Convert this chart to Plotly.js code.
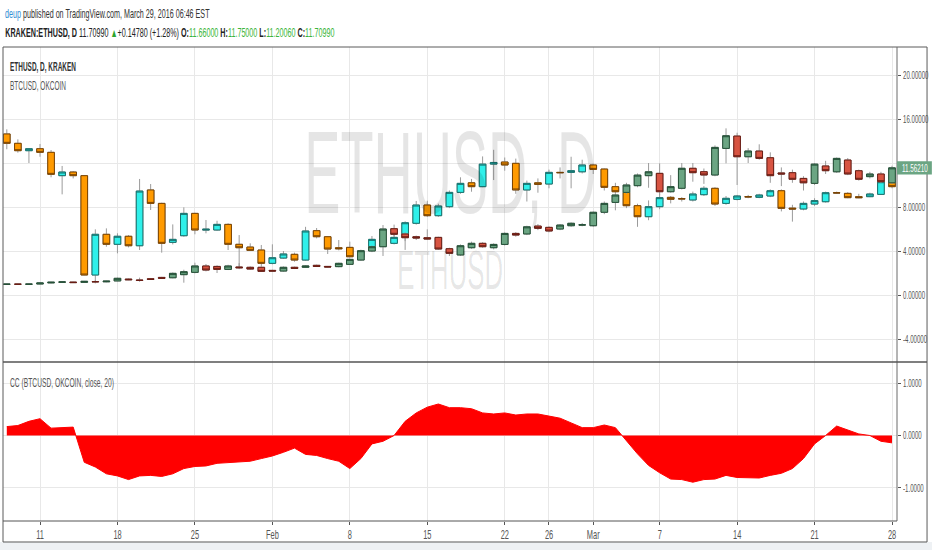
<!DOCTYPE html>
<html>
<head>
<meta charset="utf-8">
<script src="https://cdn.plot.ly/plotly-3.0.1.min.js"></script>
<style>
  html, body { margin: 0; padding: 0; background: #ffffff; }
  #chart { width: 932px; height: 550px; }
</style>
</head>
<body>
<div id="chart"></div>
<script>
// daily bars, first bar on Jan 8 2016
const firstDay = '2016-01-08';

// ETHUSD, KRAKEN (main series, green / red)
const ethOpen = [
  0.97, 0.99, 0.98, 1.00, 1.10, 1.16, 1.18, 1.15, 1.22, 1.20,
  1.28, 1.45, 1.36, 1.48, 1.60, 1.57, 1.85, 2.06, 2.64, 2.60,
  2.33, 2.55, 2.52, 2.52, 2.24, 2.18, 2.52, 2.52, 2.70, 2.60,
  2.58, 2.79, 3.18, 4.00, 4.39, 6.03, 5.55, 5.30, 5.21, 5.24,
  4.21, 3.64, 4.30, 4.70, 4.30, 4.60, 5.60, 5.55, 6.27, 6.15,
  6.00, 6.30, 6.36, 6.30, 7.52, 8.42, 9.33, 9.94, 10.85, 11.06,
  9.39, 9.70, 11.52, 11.21, 10.91, 13.33, 14.45, 12.57, 13.09, 12.48,
  11.10, 11.12, 10.60, 10.15, 11.73, 11.20, 12.27, 11.30, 10.76, 11.00,
  10.20];
const ethHigh = [
  1.02, 1.01, 1.02, 1.12, 1.20, 1.22, 1.20, 1.28, 1.36, 1.30,
  1.58, 1.50, 1.58, 1.55, 1.65, 2.05, 2.30, 2.94, 2.82, 2.70,
  2.75, 2.90, 2.60, 2.60, 2.30, 2.60, 2.58, 2.70, 2.76, 2.64,
  2.94, 3.30, 4.12, 4.50, 6.36, 6.40, 5.70, 5.40, 5.97, 5.30,
  4.30, 4.60, 4.85, 4.80, 4.70, 5.70, 5.72, 6.30, 6.45, 6.25,
  6.45, 6.60, 6.55, 7.60, 8.50, 9.20, 10.20, 11.05, 12.00, 11.97,
  10.90, 12.00, 12.00, 11.50, 13.60, 15.15, 14.75, 13.35, 13.70, 12.97,
  11.60, 11.40, 10.80, 12.00, 12.20, 12.50, 12.45, 11.40, 11.20, 11.20,
  11.75];
const ethLow = [
  0.94, 0.95, 0.95, 0.98, 1.07, 1.13, 1.10, 1.12, 1.06, 1.16,
  1.25, 1.35, 1.21, 1.38, 1.48, 1.52, 1.12, 1.97, 2.15, 2.00,
  2.27, 2.35, 2.30, 2.10, 2.12, 2.12, 2.36, 2.48, 2.55, 2.50,
  2.52, 2.73, 3.12, 3.90, 3.55, 5.30, 4.10, 5.00, 5.00, 4.10,
  3.55, 3.55, 4.20, 4.30, 4.15, 4.50, 5.30, 5.45, 5.90, 5.70,
  5.90, 6.20, 6.25, 6.20, 7.35, 7.70, 9.20, 9.80, 9.75, 9.10,
  9.30, 9.60, 10.30, 10.10, 10.80, 11.97, 10.00, 12.00, 12.30, 10.20,
  9.90, 10.20, 9.50, 10.00, 11.00, 11.10, 10.90, 10.40, 10.60, 10.20,
  10.10];
const ethClose = [
  0.99, 0.98, 0.99, 1.09, 1.16, 1.19, 1.13, 1.24, 1.20, 1.26,
  1.52, 1.39, 1.33, 1.42, 1.52, 1.97, 2.12, 2.64, 2.27, 2.33,
  2.64, 2.48, 2.36, 2.15, 2.18, 2.52, 2.42, 2.64, 2.60, 2.55,
  2.88, 3.24, 4.03, 4.39, 6.00, 5.52, 5.21, 5.18, 5.09, 4.18,
  3.79, 4.48, 4.70, 4.39, 4.60, 5.60, 5.45, 6.20, 6.06, 5.82,
  6.36, 6.52, 6.38, 7.52, 8.33, 9.09, 10.00, 10.90, 11.20, 9.39,
  9.85, 11.52, 11.12, 10.91, 13.42, 14.48, 12.57, 13.09, 12.42, 10.85,
  11.00, 10.52, 10.20, 11.90, 11.30, 12.42, 11.00, 10.52, 11.00, 10.30,
  11.5621];

// BTCUSD, OKCOIN overlay (cyan / orange), read on the chart's price scale
const btcOpen = [
  14.64, 13.79, 13.12, 13.30, 12.97, 10.85, 11.18, 10.85, 1.82, 5.52,
  4.61, 5.34, 4.48, 9.55, 8.33, 4.79, 5.39, 7.42, 5.90, 5.91,
  6.42, 4.61, 4.36, 4.09, 2.88, 3.36, 3.70, 3.18, 5.85, 5.30,
  4.30, 4.33, 3.48, 4.09, 5.06, 4.70, 5.24, 6.52, 8.18, 7.21,
  8.03, 9.33, 10.20, 9.85, 11.90, 12.09, 11.97, 9.55, 10.20, 10.09,
  11.15, 11.15, 11.20, 11.82, 11.45, 9.85, 9.33, 8.12, 7.12, 8.03,
  8.88, 8.76, 8.64, 9.12, 9.70, 8.33, 8.70, 8.94, 8.88, 9.00,
  9.48, 7.90, 7.82, 8.27, 8.48, 9.30, 9.24, 8.94, 8.94, 9.15,
  10.30];
const btcHigh = [
  15.06, 14.15, 13.35, 13.73, 13.18, 11.73, 11.27, 10.90, 5.97, 6.06,
  5.61, 5.45, 10.55, 10.09, 8.39, 6.42, 7.97, 7.48, 6.82, 6.75,
  6.52, 5.45, 4.70, 4.55, 4.61, 4.00, 3.85, 6.20, 6.09, 5.36,
  5.00, 4.85, 4.00, 5.36, 5.20, 5.50, 6.70, 8.55, 8.57, 8.30,
  9.50, 10.70, 10.55, 12.60, 13.20, 12.50, 12.40, 10.40, 10.60, 11.40,
  11.60, 12.57, 12.30, 11.95, 11.50, 10.20, 9.40, 8.30, 8.60, 9.20,
  9.00, 8.90, 9.40, 9.90, 9.80, 9.00, 9.10, 9.10, 9.20, 9.60,
  9.60, 8.20, 8.50, 8.80, 9.40, 9.40, 9.35, 9.20, 9.30, 10.40,
  10.40];
const btcLow = [
  13.25, 12.94, 12.00, 12.57, 10.70, 9.15, 10.60, 1.80, 1.12, 4.39,
  3.79, 4.33, 4.09, 7.73, 3.85, 4.60, 5.30, 5.52, 5.61, 5.85,
  4.09, 2.52, 4.00, 2.61, 2.79, 3.30, 3.03, 3.12, 5.15, 3.73,
  4.06, 3.42, 3.40, 3.94, 4.60, 4.60, 4.90, 6.40, 7.10, 7.10,
  7.90, 9.20, 9.39, 9.80, 10.45, 11.30, 9.20, 8.50, 9.30, 9.70,
  10.60, 9.70, 11.05, 11.00, 9.50, 9.20, 7.90, 6.20, 6.80, 7.80,
  8.33, 8.50, 8.50, 9.00, 8.10, 8.20, 8.60, 8.80, 8.80, 8.90,
  7.60, 6.67, 7.70, 8.10, 8.40, 9.20, 8.80, 8.80, 8.90, 9.10,
  9.70];
const btcClose = [
  13.79, 13.12, 13.30, 12.97, 10.97, 11.18, 10.85, 1.82, 5.52, 4.61,
  5.34, 4.48, 9.45, 8.33, 4.70, 5.06, 7.42, 5.91, 5.98, 6.42,
  4.61, 4.30, 4.06, 2.88, 3.39, 3.73, 3.18, 5.82, 5.30, 4.18,
  4.21, 3.48, 3.90, 5.06, 4.75, 5.24, 6.57, 8.18, 7.21, 8.09,
  9.33, 10.15, 9.85, 11.90, 12.05, 11.82, 9.55, 10.15, 10.06, 11.15,
  11.12, 11.30, 11.82, 11.42, 9.79, 9.39, 8.12, 7.12, 8.03, 8.85,
  8.70, 8.74, 9.18, 9.70, 8.27, 8.79, 9.00, 8.92, 9.09, 9.48,
  7.88, 7.82, 8.33, 8.58, 9.30, 9.28, 8.85, 8.85, 9.18, 10.30,
  9.85];

// CC (BTCUSD, OKCOIN, close, 20)
const ccValues = [
  0.17, 0.19, 0.27, 0.32, 0.14, 0.15, 0.16, -0.51, -0.60, -0.73,
  -0.77, -0.84, -0.77, -0.76, -0.78, -0.73, -0.63, -0.59, -0.58, -0.53,
  -0.52, -0.51, -0.49, -0.44, -0.39, -0.32, -0.24, -0.36, -0.38, -0.44,
  -0.49, -0.63, -0.44, -0.16, -0.11, 0.00, 0.27, 0.43, 0.54, 0.60,
  0.53, 0.53, 0.51, 0.43, 0.41, 0.43, 0.39, 0.41, 0.41, 0.37,
  0.33, 0.24, 0.15, 0.15, 0.20, 0.15, -0.11, -0.35, -0.57, -0.71,
  -0.83, -0.84, -0.89, -0.84, -0.83, -0.76, -0.80, -0.81, -0.81, -0.76,
  -0.72, -0.63, -0.44, -0.16, 0.00, 0.18, 0.10, 0.03, 0.00, -0.11,
  -0.14];

const tickDates  = ['2016-01-11','2016-01-18','2016-01-25','2016-02-01','2016-02-08','2016-02-15',
                    '2016-02-22','2016-02-26','2016-03-01','2016-03-07','2016-03-14','2016-03-21','2016-03-28'];
const tickLabels = ['11','18','25','Feb','8','15','22','26','Mar','7','14','21','28'];

const priceTicks  = [-4, 0, 4, 8, 12, 16, 20];
const priceLabels = ['-4.00000','0.00000','4.00000','8.00000','','16.00000','20.00000'];
const ccTicks  = [-1, 0, 1];
const ccLabels = ['-1.0000','0.0000','1.0000'];

const lastPrice = 11.5621;
const lastLabel = '11.56210';


function days_create(start, n)
{
    let t0 = Date.parse(start + 'T00:00:00Z');
    let out = [];
    for (let i = 0; i < n; i++)
        out.push(new Date(t0 + i * 86400000).toISOString().slice(0, 10));
    return out;
}

const days = days_create(firstDay, ethOpen.length);

// two candlestick traces per series: grey wicks first, then the bodies with dark borders
function candles_create(o, h, l, c, up, down)
{
    let wicks = {
        type: 'candlestick', x: days, open: o, high: h, low: l, close: c,
        increasing: {line: {color: '#9b9b9b', width: 1}, fillcolor: up.fill},
        decreasing: {line: {color: '#9b9b9b', width: 1}, fillcolor: down.fill},
        whiskerwidth: 0, hoverinfo: 'skip', showlegend: false,
    };
    let top = o.map((v, i) => Math.max(v, c[i]));
    let bot = o.map((v, i) => Math.min(v, c[i]));
    let bodies = {
        type: 'candlestick', x: days, open: o, high: top, low: bot, close: c,
        increasing: {line: {color: up.line, width: 1}, fillcolor: up.fill},
        decreasing: {line: {color: down.line, width: 1}, fillcolor: down.fill},
        whiskerwidth: 0, hoverinfo: 'skip', showlegend: false,
    };
    return [wicks, bodies];
}

let traces = [];
traces.push(...candles_create(btcOpen, btcHigh, btcLow, btcClose,
    {fill: '#2ff0ea', line: '#17706c'}, {fill: '#ff9a00', line: '#7a4300'}));
traces.push(...candles_create(ethOpen, ethHigh, ethLow, ethClose,
    {fill: '#6ba583', line: '#234f36'}, {fill: '#d75442', line: '#6a1d14'}));
traces.push({
    type: 'scatter', mode: 'lines', x: days, y: ccValues,
    xaxis: 'x', yaxis: 'y2',
    line: {color: '#ff0000', width: 1},
    fill: 'tozeroy', fillcolor: '#ff0000',
    hoverinfo: 'skip', showlegend: false,
});

const txtFont = 'Liberation Sans, Arial, sans-serif';
const split = 0.3354;   // lower pane share of the plot height

let annotations = [
    {xref: 'paper', yref: 'paper', x: 0, y: 1.0696, xanchor: 'left', yanchor: 'middle', showarrow: false,
     text: '<span style="color:#2f8bd3">deup</span> published on TradingView.com, March 29, 2016 06:46 EST',
     font: {family: txtFont, size: 12, color: '#333333'}, squeeze: 205},
    {xref: 'paper', yref: 'paper', x: 0, y: 1.0295, xanchor: 'left', yanchor: 'middle', showarrow: false,
     text: '<b>KRAKEN:ETHUSD, D</b> 11.70990 <span style="color:#2ea52e">▲</span>+0.14780 (+1.28%) ' +
           '<b>O:</b><span style="color:#3bb53b">11.66000</span> <b>H:</b><span style="color:#3bb53b">11.75000</span> ' +
           '<b>L:</b><span style="color:#3bb53b">11.20060</span> <b>C:</b><span style="color:#3bb53b">11.70990</span>',
     font: {family: txtFont, size: 12, color: '#222222'}, squeeze: 330},
    {xref: 'paper', yref: 'paper', x: 0.0056, y: 0.9578, xanchor: 'left', yanchor: 'middle', showarrow: false,
     text: '<b>ETHUSD, D, KRAKEN</b>', font: {family: txtFont, size: 12, color: '#333333'}, squeeze: 66},
    {xref: 'paper', yref: 'paper', x: 0.0056, y: 0.9177, xanchor: 'left', yanchor: 'middle', showarrow: false,
     text: 'BTCUSD, OKCOIN', font: {family: txtFont, size: 12, color: '#555555'}, squeeze: 56},
    {xref: 'paper', yref: 'paper', x: 0.0056, y: 0.2911, xanchor: 'left', yanchor: 'middle', showarrow: false,
     text: 'CC (BTCUSD, OKCOIN, close, 20)', font: {family: txtFont, size: 12, color: '#555555'}, squeeze: 104},
    {xref: 'paper', yref: 'paper', x: 0.5011, y: 0.735, xanchor: 'center', yanchor: 'middle', showarrow: false,
     text: 'ETHUSD, D', font: {family: txtFont, size: 117, color: 'rgba(0,0,0,0.1)'}, squeeze: 292},
    {xref: 'paper', yref: 'paper', x: 0.5, y: 0.53, xanchor: 'center', yanchor: 'middle', showarrow: false,
     text: 'ETHUSD', font: {family: txtFont, size: 56, color: 'rgba(0,0,0,0.1)'}, squeeze: 106},
    {xref: 'paper', yref: 'y', x: 1.0034, y: lastPrice, xanchor: 'left', yanchor: 'middle', showarrow: false,
     text: lastLabel, font: {family: txtFont, size: 10.5, color: '#ffffff'}, factor: 0.6},
];

let shapes = [
    // light strip under the frame
    {type: 'rect', xref: 'paper', yref: 'paper', x0: -0.01, x1: 1.05, y0: -0.07, y1: -0.0443,
     fillcolor: '#eef1f4', line: {width: 0}, layer: 'below'},
    // outer frame
    {type: 'rect', xref: 'paper', yref: 'paper', x0: 0, x1: 1.0336, y0: -0.0443, y1: 1,
     line: {color: '#5a5a5a', width: 1}},
    // price scale line
    {type: 'line', xref: 'paper', yref: 'paper', x0: 1, x1: 1, y0: 0, y1: 1,
     line: {color: '#6a6a6a', width: 1}},
    // pane separator
    {type: 'line', xref: 'paper', yref: 'paper', x0: 0, x1: 1.0336, y0: split, y1: split,
     line: {color: '#555555', width: 1.5}},
    // time scale line
    {type: 'line', xref: 'paper', yref: 'paper', x0: 0, x1: 1, y0: 0, y1: 0,
     line: {color: '#555555', width: 1}},
    // last price box
    {type: 'rect', xref: 'paper', yref: 'y', x0: 1.0, x1: 1.039, y0: lastPrice - 0.6, y1: lastPrice + 0.6,
     fillcolor: '#6ba583', line: {width: 0}},
];

let tickFont = {family: txtFont, size: 10.5, color: '#555555'};

let layout = {
    width: 932, height: 550,
    margin: {l: 3, r: 35, t: 47, b: 29, pad: 0},
    paper_bgcolor: '#ffffff', plot_bgcolor: '#ffffff',
    showlegend: false,
    hovermode: false,
    boxgap: 0.4, boxgroupgap: 0,
    font: {family: txtFont, size: 10, color: '#555555'},
    xaxis: {
        type: 'date', anchor: 'y2',
        range: ['2016-01-07 15:45', '2016-03-28 10:50'],
        tickvals: tickDates, ticktext: tickLabels,
        ticks: 'outside', ticklen: 3, tickcolor: '#555555',
        tickfont: {family: txtFont, size: 12, color: '#555555'},
        showgrid: true, gridcolor: '#e8e8e8', zeroline: false, showline: false,
        rangeslider: {visible: false}, fixedrange: true,
    },
    yaxis: {
        domain: [split, 1], anchor: 'x', side: 'right',
        range: [-6.09, 22.545],
        tickvals: priceTicks, ticktext: priceLabels,
        ticks: 'outside', ticklen: 3, tickcolor: '#555555',
        tickfont: tickFont,
        showgrid: true, gridcolor: '#e8e8e8', zeroline: false, showline: false, fixedrange: true,
    },
    yaxis2: {
        domain: [0, split], anchor: 'x', side: 'right',
        range: [-1.629, 1.40],
        tickvals: ccTicks, ticktext: ccLabels,
        ticks: 'outside', ticklen: 3, tickcolor: '#555555',
        tickfont: tickFont,
        showgrid: true, gridcolor: '#e8e8e8', zeroline: false, showline: false, fixedrange: true,
    },
    shapes: shapes,
    annotations: annotations.map(({squeeze, factor, ...a}) => a),
};

// TradingView's fonts are condensed: narrow a text element horizontally around its left edge or centre
function squeeze_el(t, k, anchor)
{
    let b = t.getBBox();
    if (!b.width) return;
    let ox = anchor === 'left' ? b.x : b.x + b.width / 2;
    let old = t.getAttribute('transform') || '';
    t.setAttribute('transform', `${old} translate(${ox} 0) scale(${k} 1) translate(${-ox} 0)`);
}

function squeeze_texts(gd)
{
    annotations.forEach((a, i) => {
        if (!a.squeeze && !a.factor) return;
        let t = gd.querySelector(`.annotation[data-index="${i}"] text.annotation-text`);
        if (!t) return;
        let k = a.factor || a.squeeze / t.getBBox().width;
        squeeze_el(t, k, a.xanchor);
    });
    gd.querySelectorAll('.ytick text, .y2tick text').forEach(t => squeeze_el(t, 0.58, 'left'));
    gd.querySelectorAll('.xtick text').forEach(t => squeeze_el(t, 0.62, 'center'));
}

let gd = document.getElementById('chart');
Plotly.newPlot(gd, traces, layout, {staticPlot: true, displayModeBar: false})
    .then(() => squeeze_texts(gd));
</script>
</body>
</html>
